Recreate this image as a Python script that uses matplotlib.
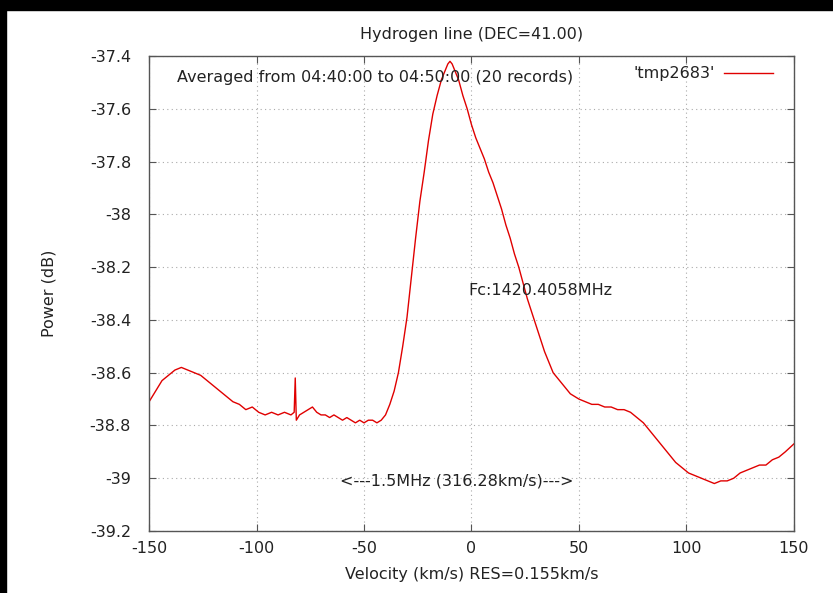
import numpy as np
import matplotlib
matplotlib.use("Agg")
import matplotlib.pyplot as plt
from matplotlib.patches import Rectangle

# velocity (km/s) and averaged power (dB)
velocity = [-150, -147, -144, -141, -138, -135, -132, -129, -126, -123,
            -120, -117, -114, -111, -108, -105, -102, -99, -96, -93,
            -90, -87, -84, -82.5, -82, -81.5, -80, -78, -76, -74,
            -72, -70, -68, -66, -64, -62, -60, -58, -56, -54,
            -52, -50, -48, -46, -44, -42, -40, -38, -36, -34,
            -32, -30, -28, -26, -24, -22, -20, -18, -16, -14,
            -12, -11, -10, -9, -8, -6, -4, -2, 0, 2,
            4, 6, 8, 10, 12, 14, 16, 18, 20, 22,
            24, 26, 28, 30, 32, 34, 36, 38, 40, 42,
            44, 46, 48, 50, 53, 56, 59, 62, 65, 68,
            71, 74, 77, 80, 83, 86, 89, 92, 95, 98,
            101, 104, 107, 110, 113, 116, 119, 122, 125, 128,
            131, 134, 137, 140, 143, 146, 150]
power = [-38.71, -38.67, -38.63, -38.61, -38.59, -38.58, -38.59, -38.60, -38.61, -38.63,
         -38.65, -38.67, -38.69, -38.71, -38.72, -38.74, -38.73, -38.75, -38.76, -38.75,
         -38.76, -38.75, -38.76, -38.75, -38.62, -38.78, -38.76, -38.75, -38.74, -38.73,
         -38.75, -38.76, -38.76, -38.77, -38.76, -38.77, -38.78, -38.77, -38.78, -38.79,
         -38.78, -38.79, -38.78, -38.78, -38.79, -38.78, -38.76, -38.72, -38.67, -38.60,
         -38.50, -38.39, -38.24, -38.09, -37.95, -37.84, -37.72, -37.62, -37.55, -37.49,
         -37.45, -37.43, -37.42, -37.43, -37.45, -37.49, -37.55, -37.60, -37.66, -37.71,
         -37.75, -37.79, -37.84, -37.88, -37.93, -37.98, -38.04, -38.09, -38.15, -38.20,
         -38.26, -38.32, -38.37, -38.42, -38.47, -38.52, -38.56, -38.60, -38.62, -38.64,
         -38.66, -38.68, -38.69, -38.70, -38.71, -38.72, -38.72, -38.73, -38.73, -38.74,
         -38.74, -38.75, -38.77, -38.79, -38.82, -38.85, -38.88, -38.91, -38.94, -38.96,
         -38.98, -38.99, -39.00, -39.01, -39.02, -39.01, -39.01, -39.00, -38.98, -38.97,
         -38.96, -38.95, -38.95, -38.93, -38.92, -38.90, -38.87]

xticks = [-150, -100, -50, 0, 50, 100, 150]
yticks = [-39.2, -39.0, -38.8, -38.6, -38.4, -38.2, -38.0, -37.8, -37.6, -37.4]
ytick_labels = ["-39.2", "-39", "-38.8", "-38.6", "-38.4", "-38.2", "-38", "-37.8", "-37.6", "-37.4"]

plt.rcParams['font.family'] = ['DejaVu Sans']
plt.rcParams['axes.unicode_minus'] = False
txt = '#222222'
fs = 11.5

fig = plt.figure(figsize=(8.33, 5.93), dpi=100)
ax = fig.add_axes([0.179, 0.1045, 0.774, 0.801])

ax.plot(velocity, power, color='#e00000', lw=1.0, label="'tmp2683'")

ax.set_xlim(-150, 150)
ax.set_ylim(-39.2, -37.4)
ax.set_xticks(xticks)
ax.set_yticks(yticks)
ax.set_yticklabels(ytick_labels)
ax.tick_params(direction='in', top=True, right=True, length=5, width=0.8,
               labelsize=fs, labelcolor=txt, colors='#555555')
ax.tick_params(axis='y', pad=13)
ax.tick_params(axis='x', pad=7)
ax.grid(True, color='#aaaaaa', linestyle=(0, (1, 3)), lw=0.8)
for s in ax.spines.values():
    s.set_color('#555555')
    s.set_linewidth(1.0)

ax.set_xlabel('Velocity (km/s) RES=0.155km/s', fontsize=fs, color=txt, labelpad=8)
ax.set_ylabel('Power (dB)', fontsize=fs, color=txt, labelpad=24)
ax.set_title('Hydrogen line (DEC=41.00)', fontsize=fs, color=txt, pad=12)

ax.text(-137, -37.48, 'Averaged from 04:40:00 to 04:50:00 (20 records)',
        fontsize=fs, color=txt, va='center', ha='left')
ax.text(-1.5, -38.29, 'Fc:1420.4058MHz', fontsize=fs, color=txt, va='center', ha='left')
ax.text(-61, -39.01, '<---1.5MHz (316.28km/s)--->', fontsize=fs, color=txt,
        va='center', ha='left')

leg = ax.legend(loc='upper right', bbox_to_anchor=(0.978, 0.992), borderaxespad=0,
                frameon=False, fontsize=fs, handlelength=3.1,
                markerfirst=False, handletextpad=0.56)
for t in leg.get_texts():
    t.set_color(txt)

# black strips along the top and left edge of the screenshot
fig.patches.append(Rectangle((0, 1 - 10 / 593), 1, 10 / 593, transform=fig.transFigure,
                             color='black', zorder=10))
fig.patches.append(Rectangle((0, 0), 6 / 833, 1, transform=fig.transFigure,
                             color='black', zorder=10))

plt.savefig('out.png', dpi=100)
